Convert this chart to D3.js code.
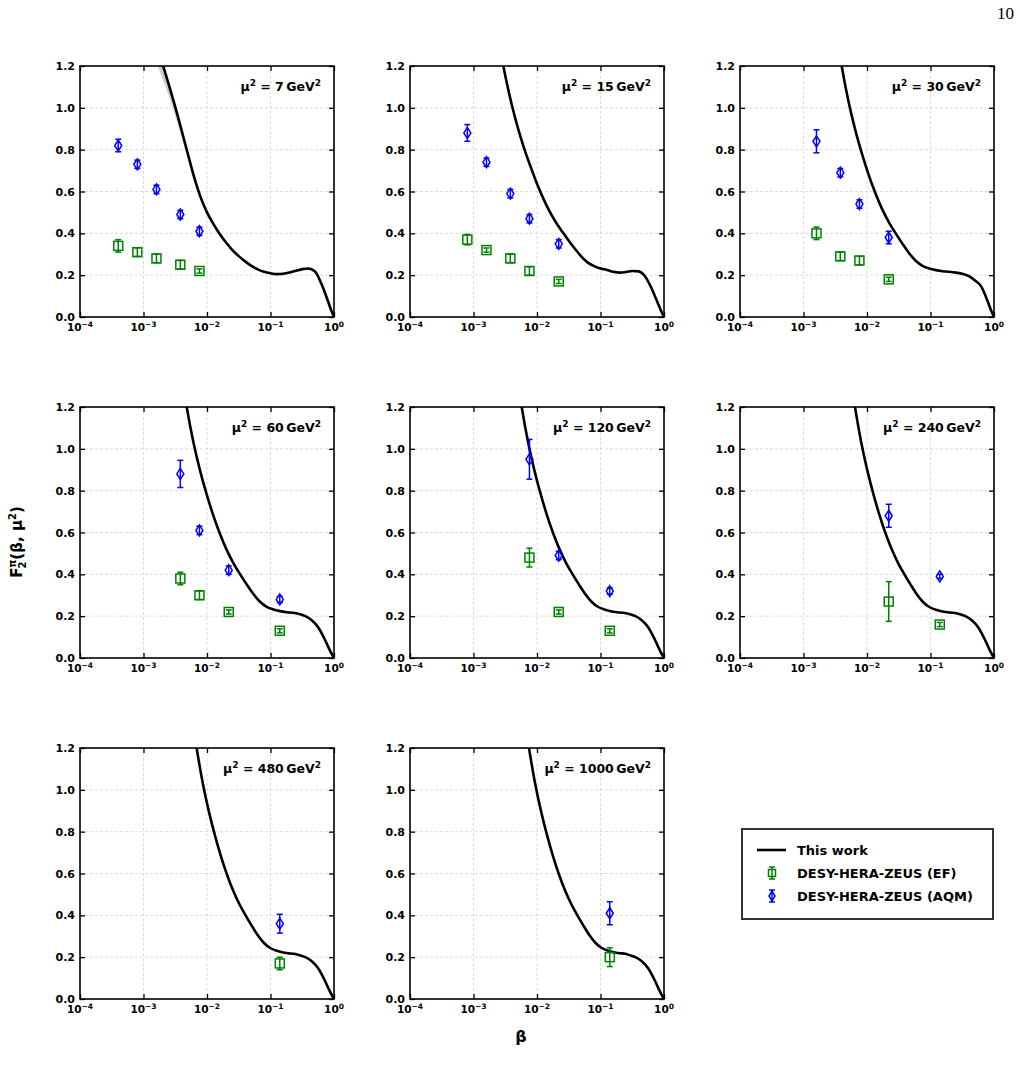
<!DOCTYPE html>
<html>
<head>
<meta charset="utf-8">
<title>F2 pi vs beta</title>
<script src="https://d3js.org/d3.v7.min.js"></script>
<style>
  body { margin: 0; background: #fff; }
  svg text { font-family: "DejaVu Sans", sans-serif; font-weight: bold; fill: #000; }
</style>
</head>
<body>
<svg id="fig" width="1020" height="1075"></svg>
<script>
// mu^2 of each panel (GeV^2)
const muSq = [7, 15, 30, 60, 120, 240, 480, 1000];
const yTicks = [0, 0.2, 0.4, 0.6, 0.8, 1.0, 1.2];
const xTickExps = [-4, -3, -2, -1, 0];

// ZEUS points per panel: [beta, F2, err]
const efPoints = [
  [[4e-4, 0.34, 0.03], [8e-4, 0.31, 0.02], [1.6e-3, 0.28, 0.02], [3.8e-3, 0.25, 0.02], [7.6e-3, 0.22, 0.01]],
  [[8e-4, 0.37, 0.025], [1.6e-3, 0.32, 0.01], [3.8e-3, 0.28, 0.02], [7.6e-3, 0.22, 0.02], [0.022, 0.17, 0.01]],
  [[1.6e-3, 0.40, 0.03], [3.8e-3, 0.29, 0.02], [7.6e-3, 0.27, 0.02], [0.022, 0.18, 0.01]],
  [[3.8e-3, 0.38, 0.03], [7.6e-3, 0.30, 0.02], [0.022, 0.22, 0.01], [0.14, 0.13, 0.01]],
  [[7.6e-3, 0.48, 0.045], [0.022, 0.22, 0.01], [0.14, 0.13, 0.01]],
  [[0.022, 0.27, 0.095], [0.14, 0.16, 0.01]],
  [[0.14, 0.17, 0.03]],
  [[0.14, 0.20, 0.045]]
];
const aqmPoints = [
  [[4e-4, 0.82, 0.03], [8e-4, 0.73, 0.02], [1.6e-3, 0.61, 0.02], [3.8e-3, 0.49, 0.02], [7.6e-3, 0.41, 0.02]],
  [[8e-4, 0.88, 0.04], [1.6e-3, 0.74, 0.02], [3.8e-3, 0.59, 0.02], [7.6e-3, 0.47, 0.02], [0.022, 0.35, 0.02]],
  [[1.6e-3, 0.84, 0.055], [3.8e-3, 0.69, 0.02], [7.6e-3, 0.54, 0.02], [0.022, 0.38, 0.03]],
  [[3.8e-3, 0.88, 0.065], [7.6e-3, 0.61, 0.02], [0.022, 0.42, 0.02], [0.14, 0.28, 0.015]],
  [[7.6e-3, 0.95, 0.095], [0.022, 0.49, 0.02], [0.14, 0.32, 0.015]],
  [[0.022, 0.68, 0.055], [0.14, 0.39, 0.01]],
  [[0.14, 0.36, 0.045]],
  [[0.14, 0.41, 0.055]]
];

// "This work" curve per panel: log10(beta) and F2
const curveLogBeta = [
  [-2.8, -2.7, -2.6, -2.5, -2.4, -2.3, -2.2, -2.1, -2.0, -1.9, -1.8, -1.7, -1.6, -1.5, -1.4, -1.3, -1.2, -1.1, -1.0, -0.9, -0.8, -0.7, -0.6, -0.5, -0.4, -0.3, -0.2, -0.1, -0.05, 0],
  [-2.6, -2.5, -2.4, -2.3, -2.2, -2.1, -2.0, -1.9, -1.8, -1.7, -1.6, -1.5, -1.4, -1.3, -1.2, -1.1, -1.0, -0.9, -0.8, -0.7, -0.6, -0.5, -0.4, -0.3, -0.2, -0.1, -0.05, 0],
  [-2.505, -2.399, -2.293, -2.187, -2.081, -1.975, -1.869, -1.763, -1.657, -1.551, -1.445, -1.339, -1.233, -1.127, -1.021, -0.915, -0.809, -0.703, -0.6, -0.5, -0.4, -0.3, -0.2, -0.1, -0.05, 0],
  [-2.425, -2.32, -2.215, -2.11, -2.005, -1.9, -1.795, -1.69, -1.585, -1.48, -1.375, -1.27, -1.165, -1.06, -0.955, -0.85, -0.745, -0.64, -0.55, -0.45, -0.35, -0.25, -0.15, -0.08, -0.03, 0],
  [-2.341, -2.241, -2.141, -2.041, -1.941, -1.841, -1.741, -1.641, -1.541, -1.441, -1.341, -1.241, -1.141, -1.041, -0.941, -0.841, -0.741, -0.641, -0.55, -0.45, -0.35, -0.25, -0.15, -0.08, -0.03, 0],
  [-2.286, -2.189, -2.092, -1.995, -1.898, -1.801, -1.704, -1.607, -1.51, -1.413, -1.316, -1.219, -1.122, -1.025, -0.928, -0.831, -0.734, -0.637, -0.55, -0.45, -0.35, -0.25, -0.15, -0.08, -0.03, 0],
  [-2.259, -2.163, -2.067, -1.971, -1.875, -1.779, -1.683, -1.587, -1.491, -1.395, -1.299, -1.203, -1.107, -1.011, -0.915, -0.819, -0.723, -0.627, -0.55, -0.45, -0.35, -0.25, -0.15, -0.08, -0.03, 0],
  [-2.221, -2.126, -2.031, -1.936, -1.841, -1.746, -1.651, -1.556, -1.461, -1.366, -1.271, -1.176, -1.081, -0.986, -0.891, -0.796, -0.701, -0.606, -0.55, -0.45, -0.35, -0.25, -0.15, -0.08, -0.03, 0]
];
const curveF = [
  [1.305, 1.21, 1.11, 1.005, 0.893, 0.778, 0.666, 0.572, 0.50, 0.445, 0.397, 0.356, 0.32, 0.291, 0.266, 0.244, 0.228, 0.216, 0.209, 0.205, 0.207, 0.213, 0.221, 0.229, 0.232, 0.218, 0.16, 0.08, 0.037, 0],
  [1.312, 1.155, 1.018, 0.903, 0.804, 0.718, 0.637, 0.566, 0.504, 0.452, 0.407, 0.365, 0.325, 0.289, 0.26, 0.243, 0.232, 0.225, 0.216, 0.212, 0.215, 0.22, 0.218, 0.195, 0.14, 0.068, 0.032, 0],
  [1.4, 1.2, 1.033, 0.897, 0.782, 0.681, 0.593, 0.517, 0.454, 0.401, 0.352, 0.306, 0.269, 0.245, 0.232, 0.224, 0.219, 0.216, 0.212, 0.207, 0.196, 0.175, 0.145, 0.075, 0.035, 0],
  [1.4, 1.2, 1.033, 0.897, 0.782, 0.681, 0.593, 0.517, 0.454, 0.401, 0.352, 0.306, 0.269, 0.245, 0.232, 0.224, 0.219, 0.216, 0.21, 0.2, 0.18, 0.147, 0.092, 0.046, 0.016, 0],
  [1.4, 1.2, 1.033, 0.897, 0.782, 0.681, 0.593, 0.517, 0.454, 0.401, 0.352, 0.306, 0.269, 0.245, 0.232, 0.224, 0.219, 0.216, 0.21, 0.2, 0.18, 0.147, 0.092, 0.046, 0.016, 0],
  [1.4, 1.2, 1.033, 0.897, 0.782, 0.681, 0.593, 0.517, 0.454, 0.401, 0.352, 0.306, 0.269, 0.245, 0.232, 0.224, 0.219, 0.216, 0.21, 0.2, 0.18, 0.147, 0.092, 0.046, 0.016, 0],
  [1.4, 1.2, 1.033, 0.897, 0.782, 0.681, 0.593, 0.517, 0.454, 0.401, 0.352, 0.306, 0.269, 0.245, 0.232, 0.224, 0.219, 0.216, 0.21, 0.2, 0.18, 0.147, 0.092, 0.046, 0.016, 0],
  [1.4, 1.2, 1.033, 0.897, 0.782, 0.681, 0.593, 0.517, 0.454, 0.401, 0.352, 0.306, 0.269, 0.245, 0.232, 0.224, 0.219, 0.216, 0.21, 0.2, 0.18, 0.147, 0.092, 0.046, 0.016, 0]
];
// lower edge of the grey uncertainty band (visible only in the first two panels)
const bandLowF = [
  [1.215, 1.14, 1.055, 0.96, 0.858, 0.752, 0.648, 0.558, 0.49, 0.437, 0.391, 0.351, 0.315, 0.287, 0.262, 0.24, 0.224, 0.212, 0.205, 0.201, 0.203, 0.208, 0.215, 0.222, 0.224, 0.21, 0.154, 0.076, 0.035, 0],
  [1.277, 1.127, 0.998, 0.889, 0.794, 0.711, 0.632, 0.562, 0.501, 0.449, 0.404, 0.362, 0.322, 0.286, 0.257, 0.24, 0.229, 0.222, 0.213, 0.209, 0.212, 0.217, 0.215, 0.192, 0.137, 0.066, 0.031, 0],
  null, null, null, null, null, null
];

const legendItems = ["This work", "DESY-HERA-ZEUS (EF)", "DESY-HERA-ZEUS (AQM)"];

const W = 254, H = 251;
const colX = [80, 410, 740], rowY = [66, 407, 748];
const efColor = "#008000", aqmColor = "#0000ff";

const svg = d3.select("#fig");

const x = d3.scaleLog().domain([1e-4, 1]).range([0, W]);
const y = d3.scaleLinear().domain([0, 1.2]).range([H, 0]);

const line = d3.line()
  .x(d => x(Math.pow(10, d[0])))
  .y(d => y(d[1]))
  .curve(d3.curveMonotoneX);
const area = d3.area()
  .x(d => x(Math.pow(10, d[0])))
  .y0(d => y(d[2]))
  .y1(d => y(d[1]))
  .curve(d3.curveMonotoneX);

function errMarks(g, pts, color, shape) {
  const grp = g.append("g").attr("stroke", color).attr("fill", "none");
  pts.forEach(p => {
    const cx = x(p[0]), cy = y(p[1]);
    const e = grp.append("g");
    e.append("line").attr("x1", cx).attr("x2", cx)
      .attr("y1", y(p[1] - p[2])).attr("y2", y(p[1] + p[2])).attr("stroke-width", 1.5);
    [p[1] - p[2], p[1] + p[2]].forEach(v => {
      e.append("line").attr("x1", cx - 3).attr("x2", cx + 3)
        .attr("y1", y(v)).attr("y2", y(v)).attr("stroke-width", 1.5);
    });
    if (shape === "square") {
      e.append("rect").attr("x", cx - 4.5).attr("y", cy - 4.5)
        .attr("width", 9).attr("height", 9).attr("stroke-width", 1.5);
    } else {
      e.append("path")
        .attr("d", `M${cx},${cy - 5.5}L${cx + 3.5},${cy}L${cx},${cy + 5.5}L${cx - 3.5},${cy}Z`)
        .attr("stroke-width", 1.5);
    }
  });
}

muSq.forEach((m, i) => {
  const px = colX[i % 3], py = rowY[Math.floor(i / 3)];
  const g = svg.append("g").attr("transform", `translate(${px},${py})`);

  // grid
  g.append("g").selectAll("line").data(yTicks.slice(1, -1)).join("line")
    .attr("x1", 0).attr("x2", W).attr("y1", d => y(d)).attr("y2", d => y(d))
    .attr("stroke", "#cfcfcf").attr("stroke-width", 0.7).attr("stroke-dasharray", "3,2");
  g.append("g").selectAll("line").data(xTickExps.slice(1, -1)).join("line")
    .attr("y1", 0).attr("y2", H).attr("x1", d => x(Math.pow(10, d))).attr("x2", d => x(Math.pow(10, d)))
    .attr("stroke", "#cfcfcf").attr("stroke-width", 0.7).attr("stroke-dasharray", "3,2");

  // clip
  svg.append("clipPath").attr("id", "clip" + i)
    .append("rect").attr("width", W).attr("height", H);
  const plot = g.append("g").attr("clip-path", `url(#clip${i})`);

  const pts = curveLogBeta[i].map((l, k) => [l, curveF[i][k], bandLowF[i] ? bandLowF[i][k] : curveF[i][k]]);
  if (bandLowF[i]) {
    plot.append("path").datum(pts).attr("d", area).attr("fill", "#cccccc").attr("stroke", "none");
  }
  plot.append("path").datum(pts).attr("d", line)
    .attr("fill", "none").attr("stroke", "#000").attr("stroke-width", 2.6);

  errMarks(g, efPoints[i], efColor, "square");
  errMarks(g, aqmPoints[i], aqmColor, "diamond");

  // axes with inward ticks
  const yAx = g.append("g").call(d3.axisLeft(y).tickValues(yTicks)
    .tickSizeInner(-5).tickSizeOuter(0).tickPadding(5).tickFormat(d3.format(".1f")));
  yAx.select(".domain").remove();
  yAx.selectAll("text").attr("font-size", 11).attr("font-family", "DejaVu Sans").attr("font-weight", "bold");
  yAx.selectAll("line").attr("stroke-width", 1.3);

  const yAxR = g.append("g").attr("transform", `translate(${W},0)`)
    .call(d3.axisRight(y).tickValues(yTicks).tickSizeInner(-5).tickSizeOuter(0).tickFormat(""));
  yAxR.select(".domain").remove();
  yAxR.selectAll("line").attr("stroke-width", 1.3);

  const xVals = xTickExps.map(e => Math.pow(10, e));
  const xAx = g.append("g").attr("transform", `translate(0,${H})`)
    .call(d3.axisBottom(x).tickValues(xVals).tickSizeInner(-5).tickSizeOuter(0).tickFormat(""));
  xAx.select(".domain").remove();
  xAx.selectAll("line").attr("stroke-width", 1.3);
  const xAxT = g.append("g")
    .call(d3.axisTop(x).tickValues(xVals).tickSizeInner(-5).tickSizeOuter(0).tickFormat(""));
  xAxT.select(".domain").remove();
  xAxT.selectAll("line").attr("stroke-width", 1.3);

  // x tick labels 10^n
  const xl = g.append("g").selectAll("text").data(xTickExps).join("text")
    .attr("x", d => x(Math.pow(10, d))).attr("y", H + 14)
    .attr("text-anchor", "middle").attr("font-size", 10.5);
  xl.append("tspan").text("10");
  xl.append("tspan").attr("dy", -4).attr("font-size", 7.5).text(d => d === 0 ? "0" : "\u2212" + (-d));

  // frame
  g.append("rect").attr("width", W).attr("height", H)
    .attr("fill", "none").attr("stroke", "#000").attr("stroke-width", 1.6);

  // label
  const lab = g.append("text").attr("x", W - 13).attr("y", 25)
    .attr("text-anchor", "end").attr("font-size", 12.5);
  lab.append("tspan").text("\u03bc");
  lab.append("tspan").attr("dy", -5).attr("font-size", 9).text("2");
  lab.append("tspan").attr("dy", 5).text(" = " + m + "\u2009GeV");
  lab.append("tspan").attr("dy", -5).attr("font-size", 9).text("2");
});

// axis titles
const yt = svg.append("text").attr("transform", "translate(22,542) rotate(-90)")
  .attr("text-anchor", "middle").attr("font-size", 15);
yt.append("tspan").text("F");
yt.append("tspan").attr("font-size", 10).attr("dy", 4).attr("dx", -1).text("2");
yt.append("tspan").attr("font-size", 10).attr("dy", -10).attr("dx", -6).text("\u03c0");
yt.append("tspan").attr("dy", 6).text("(\u03b2, \u03bc");
yt.append("tspan").attr("font-size", 10).attr("dy", -6).text("2");
yt.append("tspan").attr("dy", 6).text(")");

svg.append("text").attr("x", 521).attr("y", 1042).attr("text-anchor", "middle")
  .attr("font-size", 16).text("\u03b2");

// page number
svg.append("text").attr("x", 1014).attr("y", 19).attr("text-anchor", "end")
  .attr("font-size", 17)
  .style("font-family", "'Liberation Serif', 'DejaVu Serif', serif").style("font-weight", "normal")
  .text("10");

// legend
const lg = svg.append("g").attr("transform", "translate(742,829)");
lg.append("rect").attr("width", 251).attr("height", 90)
  .attr("fill", "#fff").attr("stroke", "#333").attr("stroke-width", 2);
const rowsY = [21, 44, 67];
lg.append("line").attr("x1", 15).attr("x2", 44).attr("y1", rowsY[0]).attr("y2", rowsY[0])
  .attr("stroke", "#000").attr("stroke-width", 2.6);
[[efColor, "square"], [aqmColor, "diamond"]].forEach((s, k) => {
  const cx = 30, cy = rowsY[k + 1];
  const e = lg.append("g").attr("stroke", s[0]).attr("fill", "none").attr("stroke-width", 1.5);
  e.append("line").attr("x1", cx).attr("x2", cx).attr("y1", cy - 6).attr("y2", cy + 6);
  e.append("line").attr("x1", cx - 3).attr("x2", cx + 3).attr("y1", cy - 6).attr("y2", cy - 6);
  e.append("line").attr("x1", cx - 3).attr("x2", cx + 3).attr("y1", cy + 6).attr("y2", cy + 6);
  if (s[1] === "square") e.append("rect").attr("x", cx - 3.5).attr("y", cy - 3.5).attr("width", 7).attr("height", 7);
  else e.append("path").attr("d", `M${cx},${cy - 5}L${cx + 3},${cy}L${cx},${cy + 5}L${cx - 3},${cy}Z`);
});
lg.selectAll("text.li").data(legendItems).join("text").attr("class", "li")
  .attr("x", 55).attr("y", (d, k) => rowsY[k] + 5).attr("font-size", 13).text(d => d);
</script>
</body>
</html>
